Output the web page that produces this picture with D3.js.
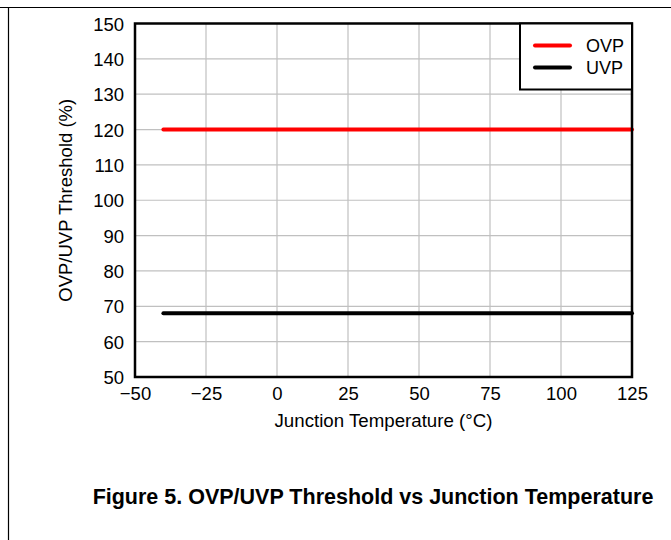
<!DOCTYPE html>
<html>
<head>
<meta charset="utf-8">
<script src="https://cdn.jsdelivr.net/npm/d3@7"></script>
<style>
  body { margin: 0; background: #fff; }
  svg { font-family: Arial, "Liberation Sans", sans-serif; }
</style>
</head>
<body>
<div id="chart"></div>
<script>
// data
var temps = [-40, 125];
var ovpValues = [120, 120];
var uvpValues = [68, 68];
var seriesNames = ["OVP", "UVP"];
var seriesColors = ["#ff0000", "#000000"];
var xTicks = [-50, -25, 0, 25, 50, 75, 100, 125];
var yTicks = [50, 60, 70, 80, 90, 100, 110, 120, 130, 140, 150];

let width = 671;
let height = 540;
var margin = {top: 23.5, right: 39, bottom: 163, left: 135};
var innerW = width - margin.left - margin.right;
var innerH = height - margin.top - margin.bottom;
var fontSize = 18.5;

var svg = d3.select("#chart").append("svg")
    .attr("width", width)
    .attr("height", height);

// page frame lines
svg.append("line").attr("x1", 0).attr("x2", width).attr("y1", 7.5).attr("y2", 7.5)
    .attr("stroke", "#000").attr("stroke-width", 1.2);
svg.append("line").attr("x1", 8.5).attr("x2", 8.5).attr("y1", 7.5).attr("y2", height)
    .attr("stroke", "#000").attr("stroke-width", 1.2);

var g = svg.append("g")
    .attr("transform", "translate(" + margin.left + "," + margin.top + ")");

var xScale = d3.scaleLinear().domain([-50, 125]).range([0, innerW]);
var yScale = d3.scaleLinear().domain([50, 150]).range([innerH, 0]);

// grid
g.append("g").selectAll("line")
    .data(xTicks.slice(1, -1))
    .enter().append("line")
    .attr("x1", function(d) { return xScale(d); })
    .attr("x2", function(d) { return xScale(d); })
    .attr("y1", 0).attr("y2", innerH)
    .attr("stroke", "#c0c0c0").attr("stroke-width", 1.2);

g.append("g").selectAll("line")
    .data(yTicks.slice(1, -1))
    .enter().append("line")
    .attr("x1", 0).attr("x2", innerW)
    .attr("y1", function(d) { return yScale(d); })
    .attr("y2", function(d) { return yScale(d); })
    .attr("stroke", "#c0c0c0").attr("stroke-width", 1.2);

// axes (labels only, frame drawn separately)
var xAxis = d3.axisBottom(xScale).tickValues(xTicks).tickSize(0).tickPadding(10)
    .tickFormat(function(d) { return d < 0 ? "\u2212" + Math.abs(d) : d; });
var yAxis = d3.axisLeft(yScale).tickValues(yTicks).tickSize(0).tickPadding(11);

var gx = g.append("g").attr("transform", "translate(0," + innerH + ")").call(xAxis);
var gy = g.append("g").call(yAxis);
[gx, gy].forEach(function(a) {
    a.select(".domain").remove();
    a.selectAll("text").attr("font-size", fontSize).attr("fill", "#000")
        .attr("font-family", "Arial, 'Liberation Sans', sans-serif");
});
gy.selectAll("text").attr("dy", "0.36em");

// series
var line = d3.line()
    .x(function(d) { return xScale(d[0]); })
    .y(function(d) { return yScale(d[1]); });

var series = [ovpValues, uvpValues].map(function(vals) {
    return temps.map(function(t, i) { return [t, vals[i]]; });
});

g.selectAll(".series")
    .data(series)
    .enter().append("path")
    .attr("class", "series")
    .attr("d", line)
    .attr("fill", "none")
    .attr("stroke", function(d, i) { return seriesColors[i]; })
    .attr("stroke-width", 4)
    .attr("stroke-linecap", "round");

// plot frame
g.append("rect")
    .attr("x", 0).attr("y", 0)
    .attr("width", innerW).attr("height", innerH)
    .attr("fill", "none").attr("stroke", "#000").attr("stroke-width", 2.5);

// legend
var legend = g.append("g").attr("transform", "translate(" + (innerW - 112) + ",0)");
legend.append("rect")
    .attr("width", 112).attr("height", 66)
    .attr("fill", "#fff").attr("stroke", "#000").attr("stroke-width", 2);
legend.selectAll(".lg-line")
    .data(seriesNames)
    .enter().append("line")
    .attr("x1", 15).attr("x2", 50)
    .attr("y1", function(d, i) { return 22 + i * 22; })
    .attr("y2", function(d, i) { return 22 + i * 22; })
    .attr("stroke", function(d, i) { return seriesColors[i]; })
    .attr("stroke-width", 4)
    .attr("stroke-linecap", "round");
legend.selectAll(".lg-text")
    .data(seriesNames)
    .enter().append("text")
    .attr("x", 66)
    .attr("y", function(d, i) { return 22 + i * 22; })
    .attr("dy", "0.36em")
    .attr("font-size", 18)
    .text(function(d) { return d; });

// axis titles
svg.append("text")
    .attr("x", margin.left + innerW / 2)
    .attr("y", 427)
    .attr("text-anchor", "middle")
    .attr("font-size", 18.7)
    .text("Junction Temperature (\u00B0C)");

svg.append("text")
    .attr("transform", "translate(72," + (margin.top + innerH / 2) + ") rotate(-90)")
    .attr("text-anchor", "middle")
    .attr("font-size", 18.5)
    .text("OVP/UVP Threshold (%)");

// caption
svg.append("text")
    .attr("x", 373)
    .attr("y", 504)
    .attr("text-anchor", "middle")
    .attr("font-size", 21.5)
    .attr("font-weight", "bold")
    .text("Figure 5. OVP/UVP Threshold vs Junction Temperature");
</script>
</body>
</html>
